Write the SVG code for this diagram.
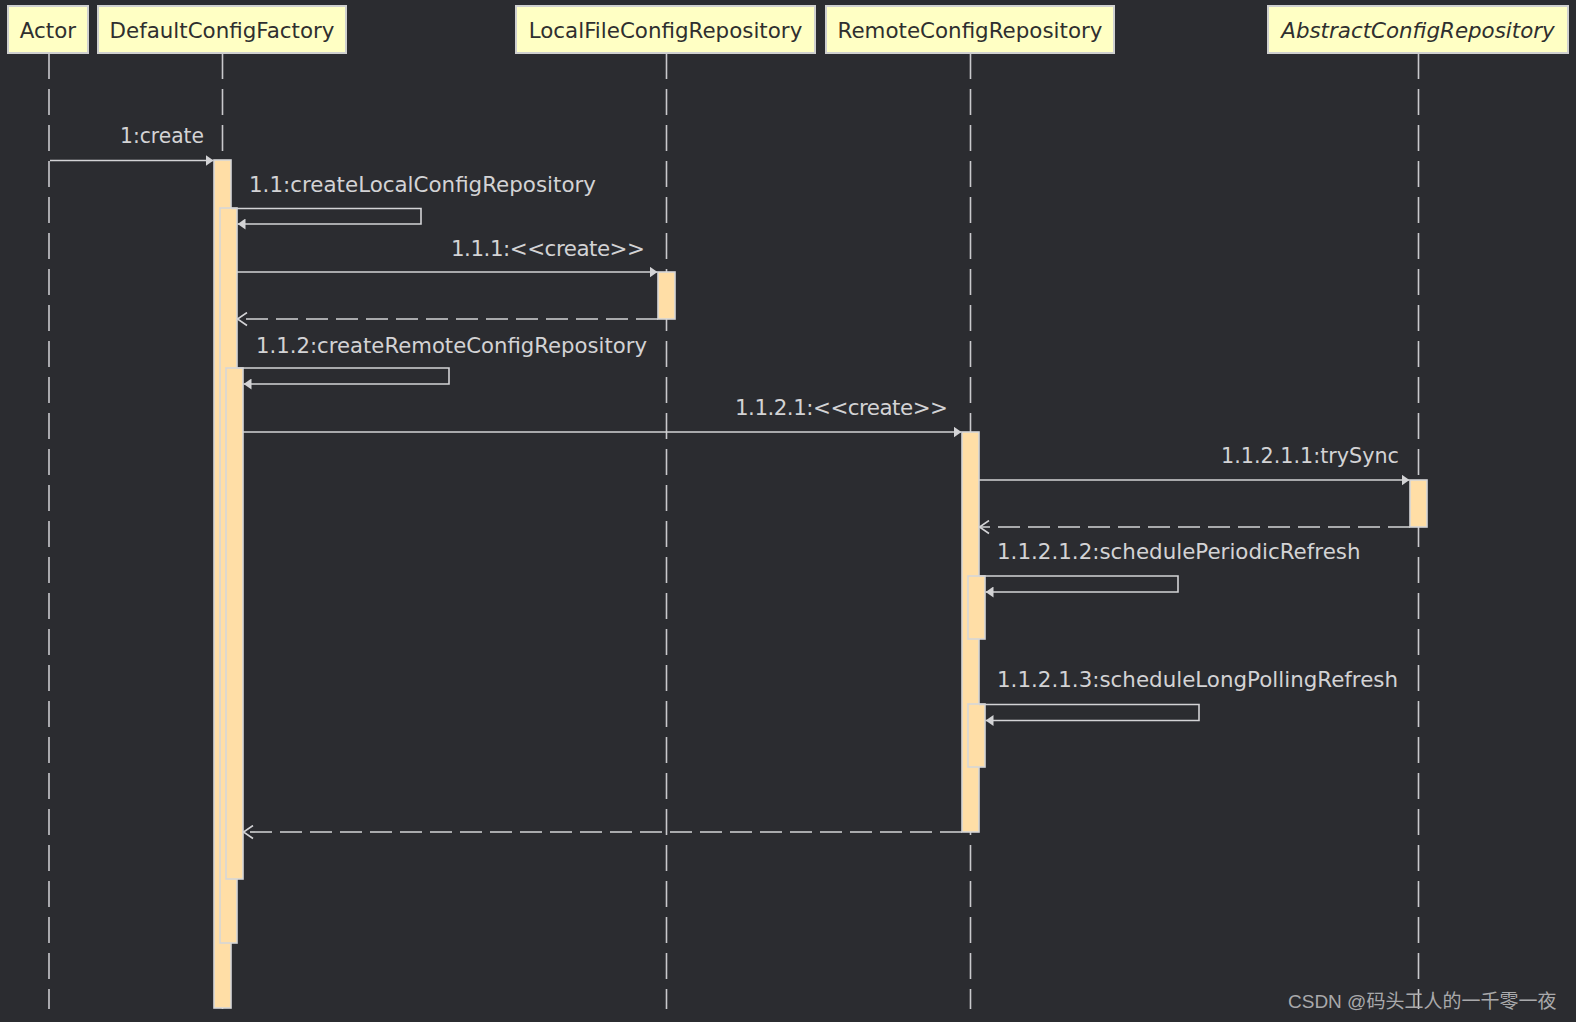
<svg xmlns="http://www.w3.org/2000/svg" width="1576" height="1022" viewBox="0 0 1576 1022">
<defs>
<style>
.hdr{fill:#ffffc4;stroke:#cfd0cf;stroke-width:2}
.ht{font-family:"DejaVu Sans",sans-serif;font-size:21.4px;fill:#2f2f2f;text-anchor:middle}
.lbl{font-family:"DejaVu Sans",sans-serif;font-size:21.4px;fill:#d3d3d5}
.life{stroke:#c9c9cc;stroke-width:1.6;stroke-dasharray:26 10;fill:none}
.bar{fill:#ffdea6;stroke:#d6d6d8;stroke-width:1.6}
.msg{stroke:#d3d3d5;stroke-width:1.6;fill:none}
.ret{stroke:#d3d3d5;stroke-width:1.6;fill:none;stroke-dasharray:22 8}
</style>
<marker id="af" markerUnits="userSpaceOnUse" viewBox="0 0 8 11" refX="8" refY="5.5" markerWidth="8" markerHeight="11" orient="auto"><path d="M0,0 L8,5.5 L0,11 Z" fill="#d3d3d5"/></marker>
<marker id="ao" markerUnits="userSpaceOnUse" viewBox="-1 -1 12 15" refX="9.5" refY="6.5" markerWidth="12" markerHeight="15" orient="auto"><path d="M0,0 L9.5,6.5 L0,13" fill="none" stroke="#d3d3d5" stroke-width="1.6"/></marker>
</defs>
<rect width="1576" height="1022" fill="#2b2c30"/>
<g id="lifelines">
<line class="life" x1="49" y1="53" x2="49" y2="1009"/>
<line class="life" x1="222.5" y1="53" x2="222.5" y2="1009"/>
<line class="life" x1="666.5" y1="53" x2="666.5" y2="1009"/>
<line class="life" x1="970.5" y1="53" x2="970.5" y2="1009"/>
<line class="life" x1="1418.5" y1="53" x2="1418.5" y2="1009"/>
</g>
<g id="node-actor"><rect class="hdr" x="8" y="6" width="80" height="47"/><text class="ht" x="48" y="38">Actor</text></g>
<g id="node-factory"><rect class="hdr" x="98" y="6" width="248" height="47"/><text class="ht" x="222" y="38">DefaultConfigFactory</text></g>
<g id="node-local"><rect class="hdr" x="516" y="6" width="299" height="47"/><text class="ht" x="665.5" y="38">LocalFileConfigRepository</text></g>
<g id="node-remote"><rect class="hdr" x="826" y="6" width="288" height="47"/><text class="ht" x="970" y="38">RemoteConfigRepository</text></g>
<g id="node-abstract"><rect class="hdr" x="1268" y="6" width="300" height="47"/><text class="ht" x="1418" y="38" font-style="italic">AbstractConfigRepository</text></g>
<g id="activations">
<rect class="bar" x="214" y="160" width="17" height="848"/>
<rect class="bar" x="220" y="208" width="17" height="735"/>
<rect class="bar" x="226" y="368" width="17" height="511"/>
<rect class="bar" x="658" y="272" width="17" height="47"/>
<rect class="bar" x="962" y="432" width="17" height="400"/>
<rect class="bar" x="1410" y="480" width="17" height="47"/>
<rect class="bar" x="968" y="576" width="17" height="63"/>
<rect class="bar" x="968" y="704" width="17" height="63"/>
</g>
<g id="connectors">
<line class="msg" x1="50" y1="160.5" x2="213.5" y2="160.5" marker-end="url(#af)"/>
<polyline class="msg" points="231,208.5 421,208.5 421,224 237.5,224" marker-end="url(#af)"/>
<line class="msg" x1="237" y1="272" x2="657.5" y2="272" marker-end="url(#af)"/>
<line class="ret" x1="658" y1="319" x2="237.5" y2="319" marker-end="url(#ao)"/>
<polyline class="msg" points="237,368 449,368 449,384 243.5,384" marker-end="url(#af)"/>
<line class="msg" x1="243" y1="432" x2="961.5" y2="432" marker-end="url(#af)"/>
<line class="msg" x1="979" y1="480" x2="1409.5" y2="480" marker-end="url(#af)"/>
<line class="ret" x1="1410" y1="527" x2="979.5" y2="527" marker-end="url(#ao)"/>
<polyline class="msg" points="979,576 1178,576 1178,592 985.5,592" marker-end="url(#af)"/>
<polyline class="msg" points="979,704.5 1199,704.5 1199,720.5 985.5,720.5" marker-end="url(#af)"/>
<line class="ret" x1="962" y1="832" x2="243.5" y2="832" marker-end="url(#ao)"/>
</g>
<g id="labels">
<text class="lbl" x="204" y="143" text-anchor="end" textLength="84" lengthAdjust="spacingAndGlyphs">1:create</text>
<text class="lbl" x="249" y="192">1.1:createLocalConfigRepository</text>
<text class="lbl" x="645" y="256" text-anchor="end" textLength="194" lengthAdjust="spacing">1.1.1:&lt;&lt;create&gt;&gt;</text>
<text class="lbl" x="256" y="353" textLength="391" lengthAdjust="spacingAndGlyphs">1.1.2:createRemoteConfigRepository</text>
<text class="lbl" x="948" y="415" text-anchor="end" textLength="213" lengthAdjust="spacing">1.1.2.1:&lt;&lt;create&gt;&gt;</text>
<text class="lbl" x="1399" y="463" text-anchor="end" textLength="178" lengthAdjust="spacingAndGlyphs">1.1.2.1.1:trySync</text>
<text class="lbl" x="997" y="559">1.1.2.1.2:schedulePeriodicRefresh</text>
<text class="lbl" x="997" y="687">1.1.2.1.3:scheduleLongPollingRefresh</text>
</g>
<text x="1288" y="1008" font-family="'Liberation Sans','Noto Sans CJK SC',sans-serif" font-size="19" fill="#a9a9ab">CSDN @码头工人的一千零一夜</text>
</svg>
